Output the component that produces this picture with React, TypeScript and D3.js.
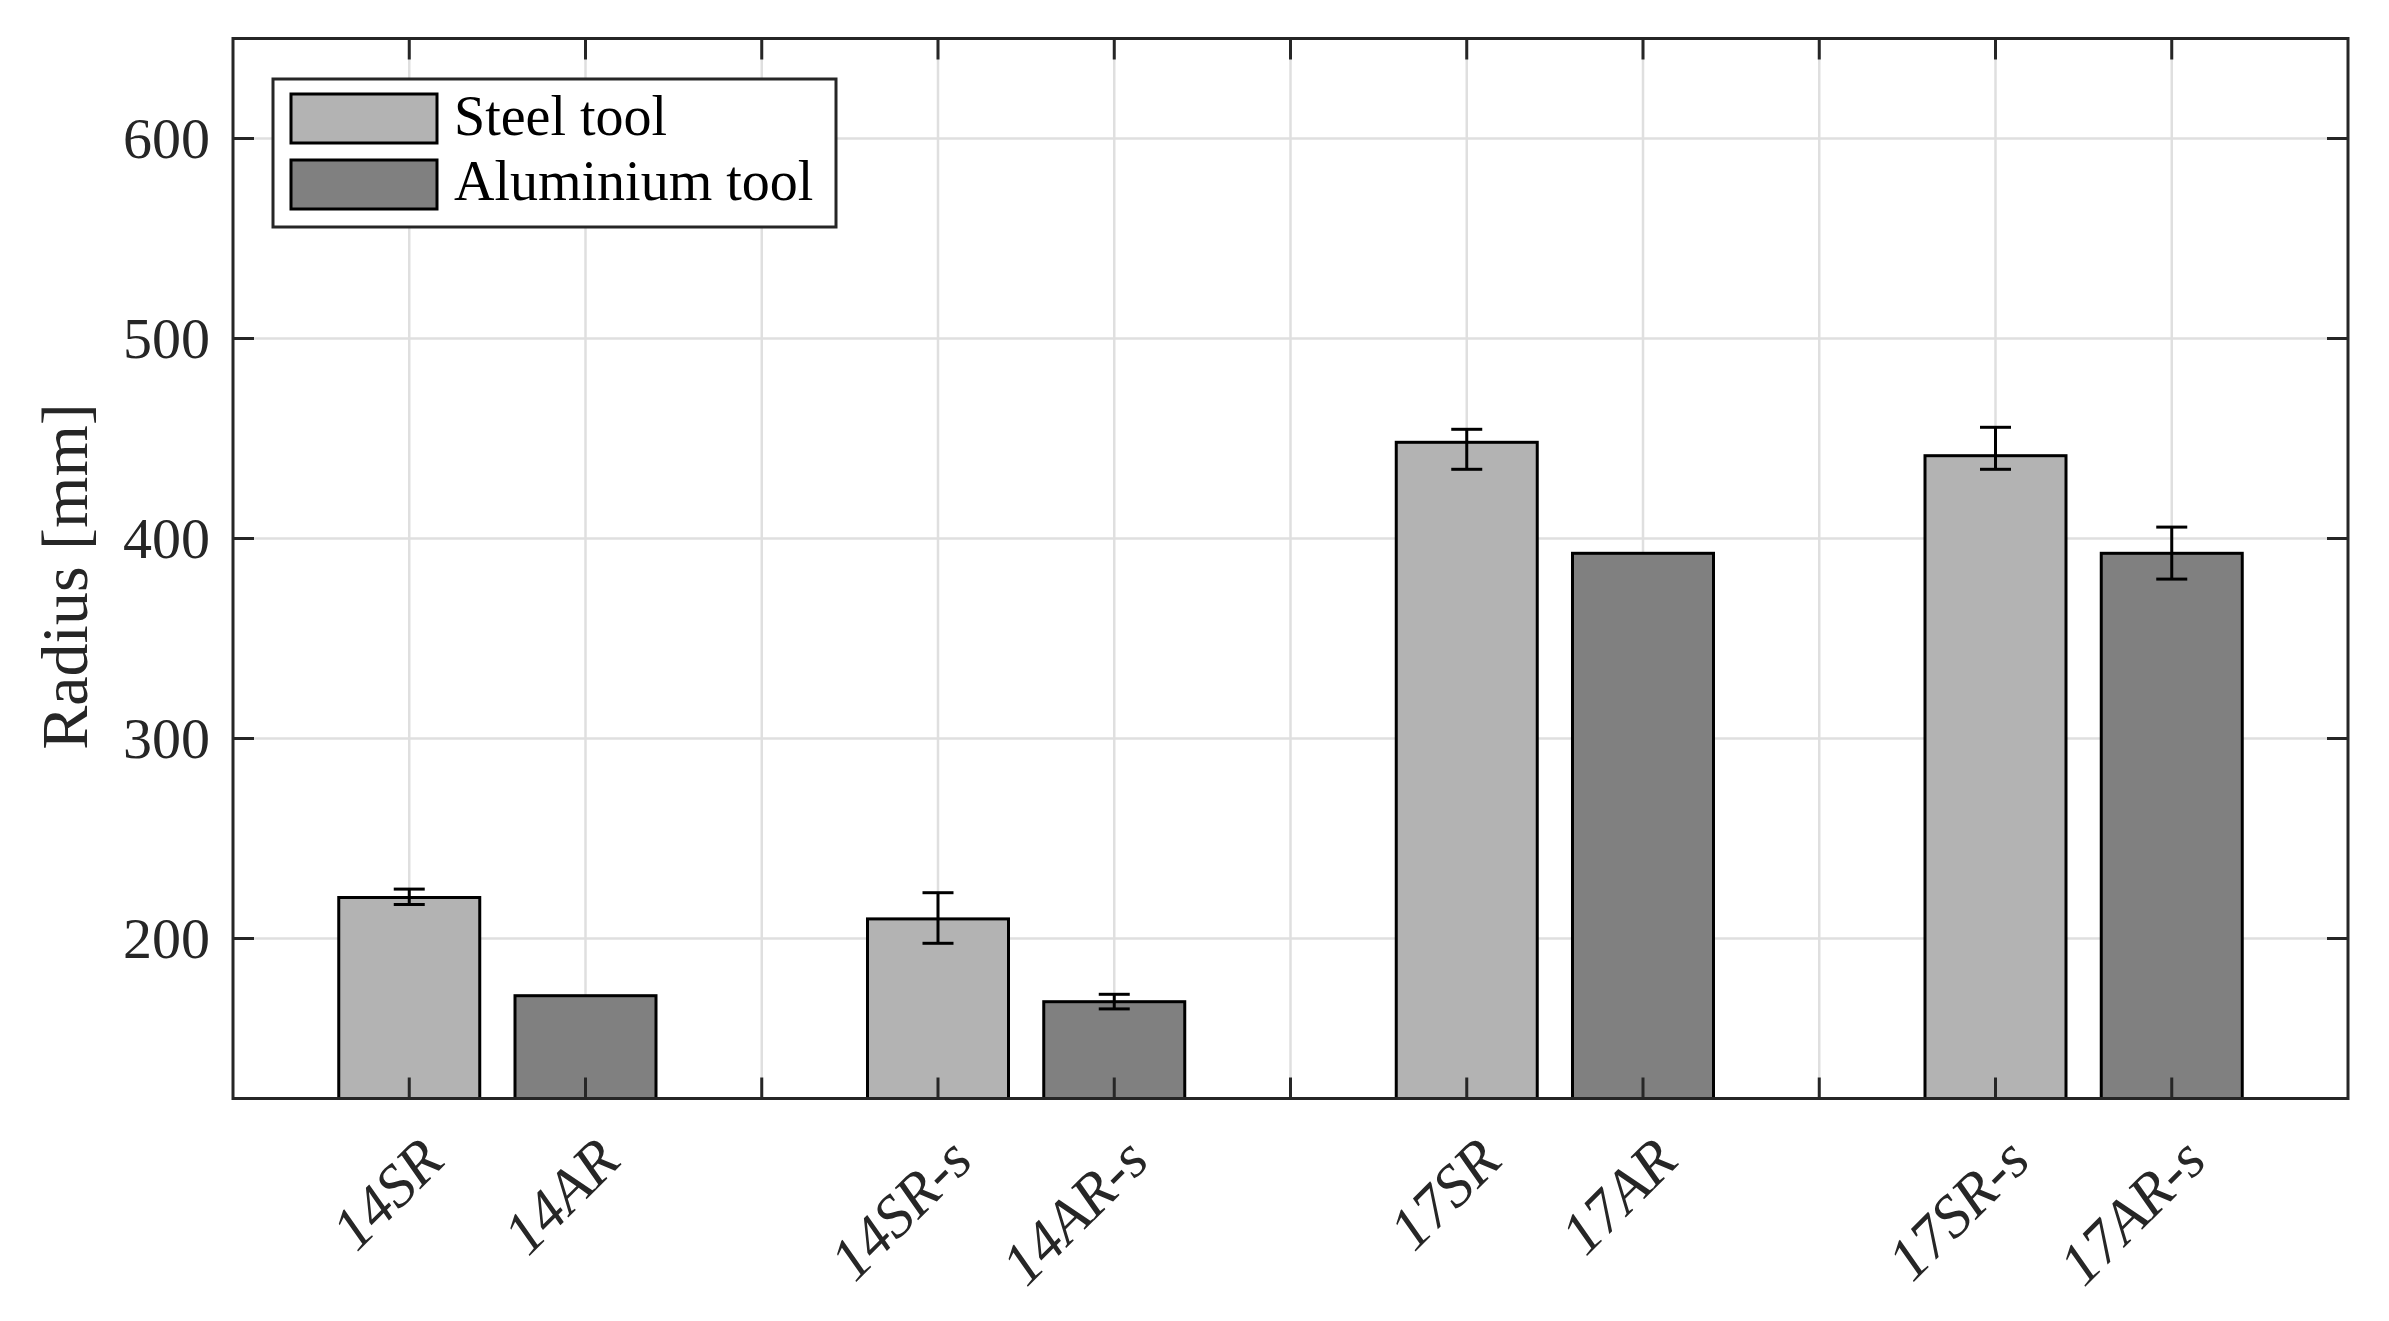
import React from "react";
import * as d3 from "d3";

// ---- data ----
const categories = ["14SR", "14AR", "14SR-s", "14AR-s", "17SR", "17AR", "17SR-s", "17AR-s"];
const groups = ["14", "14-s", "17", "17-s"];
const seriesNames = ["Steel tool", "Aluminium tool"];
const steelValues = [220.5, 209.8, 448.1, 441.4];
const steelErrLow = [3.5, 12.2, 13.5, 6.8];
const steelErrHigh = [4.2, 13.1, 6.5, 14.2];
const aluValues = [171.4, 168.4, 392.6, 392.6];
const aluErrLow = [0, 3.6, 0, 12.9];
const aluErrHigh = [0, 3.7, 0, 13.1];
const yTicks = [200, 300, 400, 500, 600];
const xTickPositions = [1, 2, 3, 4, 5, 6, 7, 8, 9, 10, 11];
const yLabel = "Radius [mm]";

const W = 2389;
const H = 1321;
const plot = { left: 233, right: 2348, top: 38.5, bottom: 1098.5 };
const FONT = "'Liberation Serif', 'DejaVu Serif', serif";
const AXIS_COLOR = "#262626";
const colors = ["#b3b3b3", "#808080"];

export default function App() {
  const x = d3.scaleLinear().domain([0, 12]).range([plot.left, plot.right]);
  const y = d3.scaleLinear().domain([120, 650]).range([plot.bottom, plot.top]);
  const barW = x(0.8) - x(0);
  const tickLen = 21;

  const bars: any[] = [];
  groups.forEach((g, gi) => {
    [steelValues, aluValues].forEach((vals, si) => {
      const pos = gi * 3 + si + 1;
      const lo = si === 0 ? steelErrLow[gi] : aluErrLow[gi];
      const hi = si === 0 ? steelErrHigh[gi] : aluErrHigh[gi];
      bars.push({ pos, v: vals[gi], si, lo, hi, label: categories[gi * 2 + si] });
    });
  });

  const labelMap: Record<number, string> = {};
  bars.forEach((b) => (labelMap[b.pos] = b.label));

  return (
    <svg
      width={W}
      height={H}
      style={{ position: "absolute", left: 0, top: 0, background: "#fff" }}
      fontFamily={FONT}
    >
      <rect x={0} y={0} width={W} height={H} fill="#fff" />
      {/* grid */}
      <g stroke="#dfdfdf" strokeWidth={2.5}>
        {xTickPositions.map((p) => (
          <line key={"gx" + p} x1={x(p)} x2={x(p)} y1={plot.top} y2={plot.bottom} />
        ))}
        {yTicks.map((t) => (
          <line key={"gy" + t} x1={plot.left} x2={plot.right} y1={y(t)} y2={y(t)} />
        ))}
      </g>
      {/* bars */}
      <g>
        {bars.map((b) => (
          <rect
            key={"b" + b.pos}
            x={x(b.pos) - barW / 2}
            y={y(b.v)}
            width={barW}
            height={plot.bottom - y(b.v)}
            fill={colors[b.si]}
            stroke="#000"
            strokeWidth={3}
          />
        ))}
      </g>
      {/* error bars */}
      <g stroke="#000" strokeWidth={3}>
        {bars
          .filter((b) => b.lo > 0 || b.hi > 0)
          .map((b) => {
            const cx = x(b.pos);
            const yl = y(b.v - b.lo);
            const yh = y(b.v + b.hi);
            return (
              <g key={"e" + b.pos}>
                <line x1={cx} x2={cx} y1={yl} y2={yh} />
                <line x1={cx - 15.5} x2={cx + 15.5} y1={yl} y2={yl} />
                <line x1={cx - 15.5} x2={cx + 15.5} y1={yh} y2={yh} />
              </g>
            );
          })}
      </g>
      {/* axes box and ticks */}
      <g stroke={AXIS_COLOR} strokeWidth={3}>
        {xTickPositions.map((p) => (
          <g key={"tx" + p}>
            <line x1={x(p)} x2={x(p)} y1={plot.bottom} y2={plot.bottom - tickLen} />
            <line x1={x(p)} x2={x(p)} y1={plot.top} y2={plot.top + tickLen} />
          </g>
        ))}
        {yTicks.map((t) => (
          <g key={"ty" + t}>
            <line x1={plot.left} x2={plot.left + tickLen} y1={y(t)} y2={y(t)} />
            <line x1={plot.right} x2={plot.right - tickLen} y1={y(t)} y2={y(t)} />
          </g>
        ))}
        <rect
          x={plot.left}
          y={plot.top}
          width={plot.right - plot.left}
          height={plot.bottom - plot.top}
          fill="none"
        />
      </g>
      {/* y tick labels */}
      <g fill={AXIS_COLOR} fontSize={58} textAnchor="end">
        {yTicks.map((t) => (
          <text key={"yl" + t} x={plot.left - 23} y={y(t) + 19}>
            {t}
          </text>
        ))}
      </g>
      {/* x tick labels */}
      <g fill={AXIS_COLOR} fontSize={60} fontStyle="italic" textAnchor="end">
        {xTickPositions
          .filter((p) => labelMap[p])
          .map((p) => (
            <text
              key={"xl" + p}
              transform={`translate(${x(p) + 22},${plot.bottom + 50}) rotate(-45)`}
              dy="0.35em"
            >
              {labelMap[p]}
            </text>
          ))}
      </g>
      {/* y label */}
      <text
        transform={`translate(87,${(plot.top + plot.bottom) / 2 + 8}) rotate(-90)`}
        textAnchor="middle"
        fontSize={66}
        fill={AXIS_COLOR}
      >
        {yLabel}
      </text>
      {/* legend */}
      <g>
        <rect x={273} y={79} width={563} height={148} fill="#fff" stroke={AXIS_COLOR} strokeWidth={3} />
        {seriesNames.map((n, i) => (
          <g key={"lg" + i}>
            <rect
              x={291}
              y={94 + i * 66}
              width={146}
              height={49}
              fill={colors[i]}
              stroke="#000"
              strokeWidth={3}
            />
            <text x={454} y={135 + i * 65} fontSize={56} fill="#000">
              {n}
            </text>
          </g>
        ))}
      </g>
    </svg>
  );
}
